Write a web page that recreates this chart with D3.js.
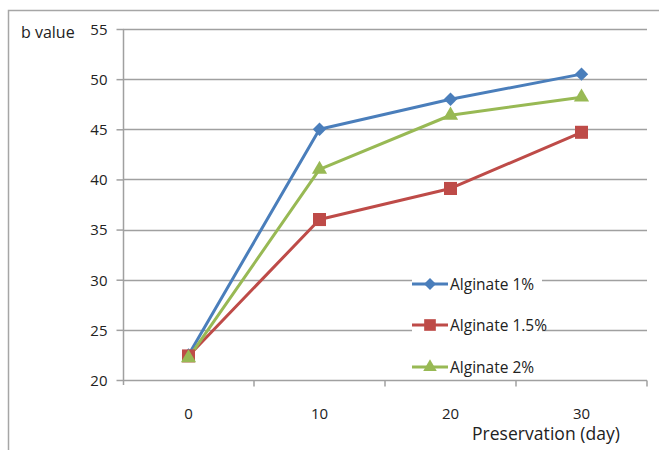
<!DOCTYPE html>
<html>
<head>
<meta charset="utf-8">
<script src="https://cdn.jsdelivr.net/npm/d3@7"></script>
<style>
  html, body { margin: 0; padding: 0; background: #fff; }
  svg { display: block; }
  text { font-family: "Open Sans", "DejaVu Sans", sans-serif; fill: #222; }
</style>
</head>
<body>
<svg id="chart" width="659" height="450"></svg>
<script>
// Preservation days (categories)
const days = ["0", "10", "20", "30"];
// b value per series
const alg1 = [22.5, 45, 48, 50.5];
const alg15 = [22.4, 36, 39.1, 44.7];
const alg2 = [22.2, 41, 46.4, 48.2];
const yTicks = [20, 25, 30, 35, 40, 45, 50, 55];
const seriesNames = ["Alginate 1%", "Alginate 1.5%", "Alginate 2%"];

const series = [
  { name: seriesNames[0], values: alg1, color: "#4a7ebb", symbol: d3.symbolSquare, size: 90, rot: 45 },
  { name: seriesNames[1], values: alg15, color: "#be4b48", symbol: d3.symbolSquare, size: 170, rot: 0 },
  { name: seriesNames[2], values: alg2, color: "#98b954", symbol: d3.symbolTriangle, size: 100, rot: 0 }
];

const svg = d3.select("#chart");
const plot = { left: 123, right: 647, top: 29, bottom: 380 };

// outer chart frame (right/bottom extend past the canvas)
svg.append("rect")
  .attr("x", 8.5).attr("y", 10.5)
  .attr("width", 700).attr("height", 500)
  .attr("fill", "none").attr("stroke", "#a6a6a6").attr("stroke-width", 1.5);

const x = d3.scaleBand().domain(days).range([plot.left, plot.right]);
const y = d3.scaleLinear().domain([20, 55]).range([plot.bottom, plot.top]);

// horizontal gridlines
svg.append("g")
  .selectAll("line")
  .data(yTicks.filter(t => t > 20))
  .join("line")
  .attr("x1", plot.left).attr("x2", plot.right)
  .attr("y1", d => Math.round(y(d)) + 0.5).attr("y2", d => Math.round(y(d)) + 0.5)
  .attr("stroke", "#a0a0a0").attr("stroke-width", 1.5);

// y axis
const yAxis = svg.append("g")
  .attr("transform", `translate(${plot.left + 0.5},0)`)
  .call(d3.axisLeft(y).tickValues(yTicks).tickSize(7).tickPadding(9));
yAxis.selectAll("path, line").attr("stroke", "#a0a0a0").attr("stroke-width", 1.5);
yAxis.select(".domain").attr("d", `M0,${plot.top}V${plot.bottom + 5}`);
yAxis.selectAll("text").attr("font-size", 15).attr("dy", "0.36em")
  .style("font-family", "'Open Sans', sans-serif").attr("fill", "#222");

// x axis with ticks on band boundaries
const xAxisG = svg.append("g")
  .attr("transform", `translate(0,${plot.bottom + 0.5})`);
xAxisG.append("line")
  .attr("x1", plot.left).attr("x2", plot.right)
  .attr("stroke", "#a0a0a0").attr("stroke-width", 1.5);
xAxisG.selectAll("line.tk")
  .data(days.slice(1).map(d => x(d)).concat([plot.right]))
  .join("line").attr("class", "tk")
  .attr("x1", d => d).attr("x2", d => d)
  .attr("y1", 0).attr("y2", 6)
  .attr("stroke", "#a0a0a0").attr("stroke-width", 1.5);
xAxisG.selectAll("text")
  .data(days)
  .join("text")
  .attr("x", d => x(d) + x.bandwidth() / 2)
  .attr("y", 38)
  .attr("text-anchor", "middle")
  .attr("font-size", 15)
  .text(d => d);

// axis titles
svg.append("text").attr("x", 21).attr("y", 38).attr("font-size", 16).text("b value");
svg.append("text").attr("x", 472).attr("y", 440).attr("font-size", 17.5)
  .attr("textLength", 148).attr("lengthAdjust", "spacing").text("Preservation (day)");

// series lines and markers
const line = d3.line()
  .x((d, i) => x(days[i]) + x.bandwidth() / 2)
  .y(d => y(d));

series.forEach(s => {
  svg.append("path")
    .datum(s.values)
    .attr("d", line)
    .attr("fill", "none")
    .attr("stroke", s.color)
    .attr("stroke-width", 3)
    .attr("stroke-linejoin", "round");
});
series.forEach(s => {
  svg.append("g").selectAll("path")
    .data(s.values)
    .join("path")
    .attr("d", d3.symbol().type(s.symbol).size(s.size))
    .attr("transform", (d, i) => `translate(${x(days[i]) + x.bandwidth() / 2},${y(d)}) rotate(${s.rot})`)
    .attr("fill", s.color);
});

// legend
const legendY = [284, 325, 367];
const legend = svg.append("g");
series.forEach((s, i) => {
  const g = legend.append("g").attr("transform", `translate(412,${legendY[i]})`);
  g.append("rect").attr("x", 0).attr("y", -12).attr("width", 130).attr("height", 22).attr("fill", "#fff");
  g.append("line").attr("x1", 0).attr("x2", 36).attr("y1", 0).attr("y2", 0)
    .attr("stroke", s.color).attr("stroke-width", 3);
  g.append("path").attr("d", d3.symbol().type(s.symbol).size(s.size * 0.8))
    .attr("transform", `translate(18,0) rotate(${s.rot})`).attr("fill", s.color);
  g.append("text").attr("x", 38).attr("y", 5.5).attr("font-size", 15.5).text(s.name);
});
</script>
</body>
</html>
